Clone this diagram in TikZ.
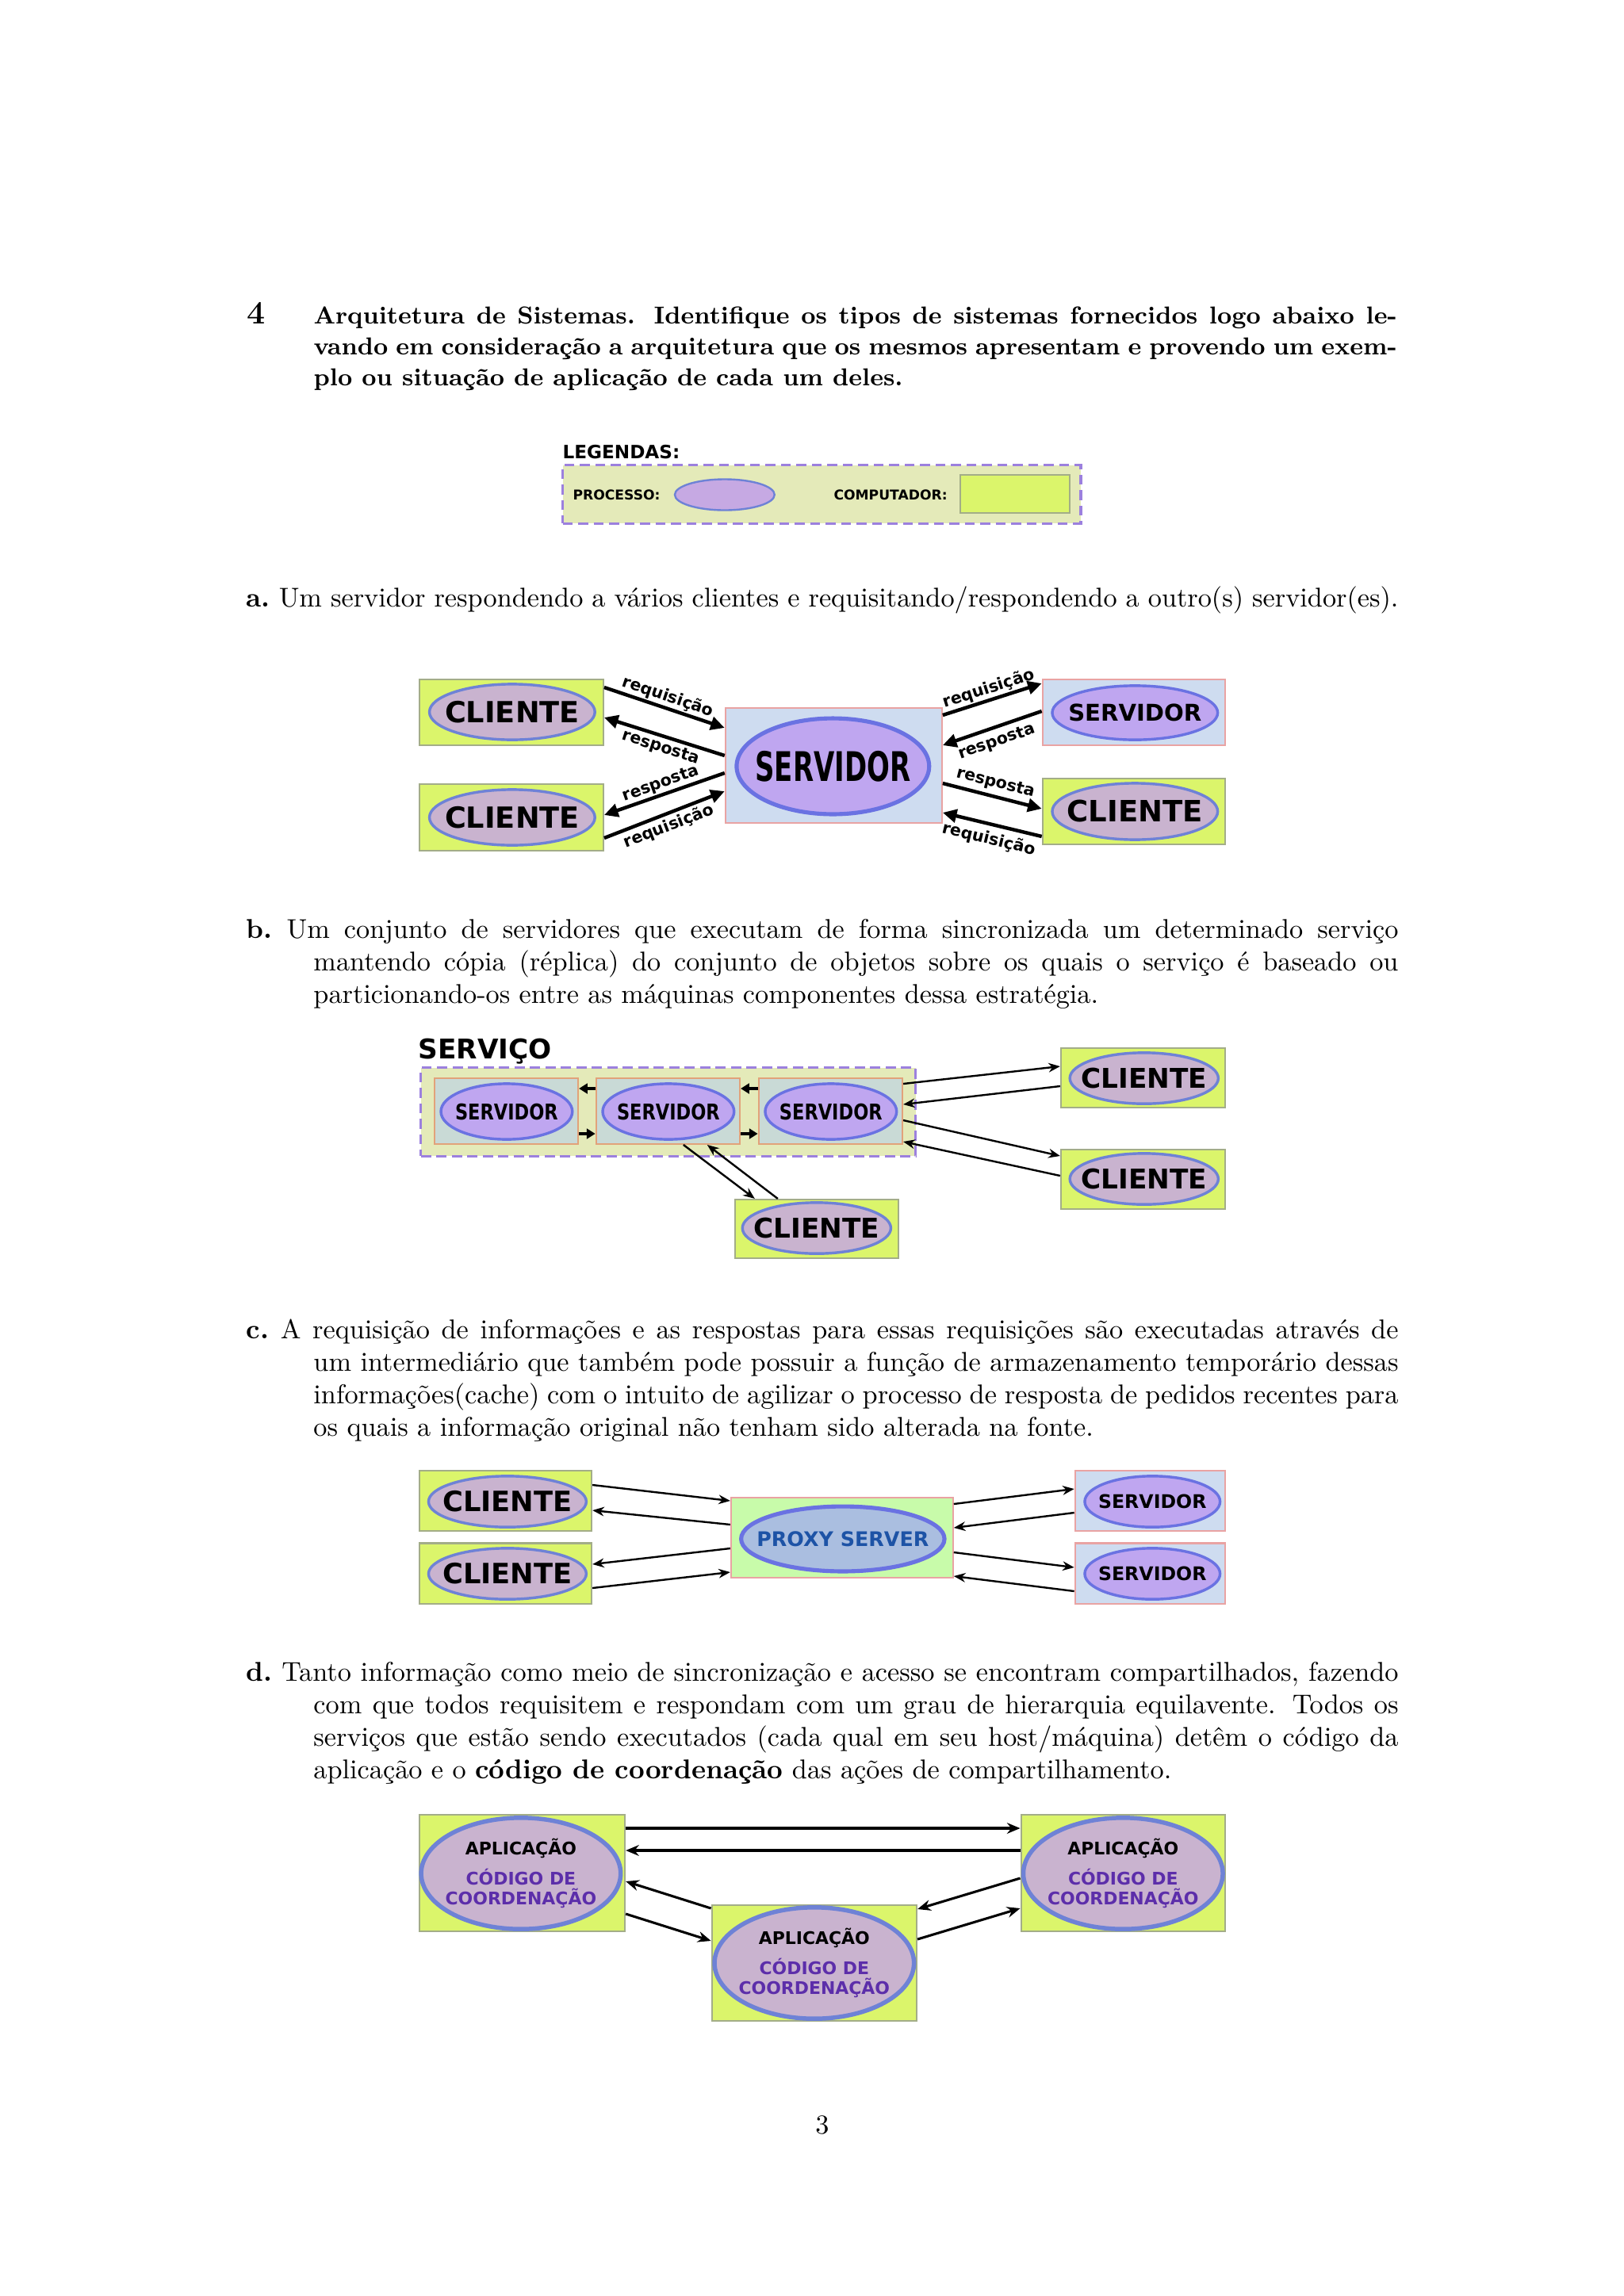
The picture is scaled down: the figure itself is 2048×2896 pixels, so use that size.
\documentclass[tikz,border=0pt]{standalone}
\usepackage{fontspec}
\usepackage{xcolor}
\usepackage{graphicx}
\usepackage{tikz}
\usetikzlibrary{positioning, shapes.geometric, arrows.meta, calc}
\newfontfamily\dejavu{DejaVu Sans}
\definecolor{pcfill}{HTML}{DBF56B}
\definecolor{pcedge}{HTML}{A3AD88}
\definecolor{svfill}{HTML}{CEDCF0}
\definecolor{svedge}{HTML}{E9A3A3}
\definecolor{clproc}{HTML}{C9B3CF}
\definecolor{procedge}{HTML}{6E82D6}
\definecolor{svproc}{HTML}{BFA6F0}
\definecolor{svprocedge}{HTML}{6A72E2}
\definecolor{grpfill}{HTML}{E4EAB9}
\definecolor{grpedge}{HTML}{9C80DE}
\definecolor{repfill}{HTML}{C9DAD6}
\definecolor{repedge}{HTML}{E2A27A}
\definecolor{pxfill}{HTML}{C8FBAA}
\definecolor{pxproc}{HTML}{AABEE0}
\definecolor{pxtext}{HTML}{1D53A6}
\definecolor{codtext}{HTML}{5C2EAA}
\definecolor{legproc}{HTML}{C6A9E3}
\newcommand{\dv}[1]{\dejavu\bfseries\fontsize{#1}{#1}\selectfont}
\newcommand{\etq}[1]{\makebox[0pt]{#1}}
\newcommand{\estreito}[2]{\makebox[0pt]{\scalebox{#1}[1]{#2}}}
\newcommand{\blocoapp}{\makebox[0pt]{\parbox{30mm}{\centering APLICAÇÃO\\[3.7pt]\textcolor{codtext}{CÓDIGO DE}\\\textcolor{codtext}{COORDENAÇÃO}}}}

\begin{document}
\begin{tikzpicture}[
  x=0.10254mm, y=-0.10255mm,
  enun/.style={anchor=base west, inner sep=0pt, align=justify},
  item/.style={enun, text width=149mm},
  pc/.style={rectangle, draw=pcedge, fill=pcfill, line width=0.6pt, inner sep=0pt},
  srv/.style={pc, draw=svedge, fill=svfill},
  rep/.style={pc, draw=repedge, fill=repfill},
  grupo/.style={rectangle, draw=grpedge, fill=grpfill, line width=0.9pt, dash pattern=on 1.3mm off 0.7mm, inner sep=0pt},
  cproc/.style={ellipse, draw=procedge, fill=clproc, line width=1pt, inner sep=0pt},
  sproc/.style={ellipse, draw=svprocedge, fill=svproc, line width=1pt, inner sep=0pt},
  app/.style={cproc, line width=1.6pt, minimum width=25.8mm, minimum height=14.4mm, font=\dejavu\bfseries\fontsize{6.4}{7.3}\selectfont},
  arr/.style={-{Triangle[length=1.8mm, width=1.7mm]}, line width=1.3pt},
  sarr/.style={-{Triangle[length=1.1mm, width=1.3mm]}, line width=1.2pt},
  larr/.style={-{Stealth[length=1.5mm, width=1.2mm]}, line width=0.7pt},
  darr/.style={-{Stealth[length=1.7mm, width=1.4mm]}, line width=0.9pt},
  lbl/.style={font=\dv{6}, sloped, inner sep=0pt}
]
\useasboundingbox (0,0) rectangle (2048,2896);

% enunciado
\node[anchor=base west, inner sep=0pt, font=\large\bfseries] (numero) at (311,408) {4};
\node[enun, text width=140.1mm, font=\fontsize{9}{11.4}\selectfont\bfseries] (enunciado) at (395,408) {Arquitetura de Sistemas.  Identifique os tipos de sistemas fornecidos logo abaixo le-\linebreak vando em consideração a arquitetura que os mesmos apresentam e provendo um exem-\linebreak plo ou situação de aplicação de cada um deles.};

% legenda
\node[anchor=base west, inner sep=0pt, font=\dv{6.75}] (legendas) at (709,578) {LEGENDAS:};
\node[grupo, minimum width=67mm, minimum height=7.5mm] (legbox) at (1036.5,623.5) {};
\node[anchor=west, inner sep=0pt, font=\dv{5}] (legproctxt) at (722,624) {PROCESSO:};
\node[cproc, fill=legproc, line width=0.7pt, minimum width=12.9mm, minimum height=4mm] (legproc) at (914,624) {};
\node[anchor=west, inner sep=0pt, font=\dv{5}] (legpctxt) at (1051,624) {COMPUTADOR:};
\node[pc, minimum width=14.2mm, minimum height=4.9mm] (legpc) at (1280,623) {};

% item a
\node[item] (itema) at (310,765) {\hangindent=8.7mm\hangafter=1 \textbf{a.}\ Um servidor respondendo a vários clientes e requisitando/respondendo a outro(s) servidor(es).\par};

\node[pc, minimum width=23.8mm, minimum height=8.5mm] (cA1box) at (645,898.5) {};
\node[cproc, minimum width=21.4mm, minimum height=7.2mm, font=\dv{10.7}] (cA1) at (646,898) {\etq{CLIENTE}};
\node[pc, minimum width=23.8mm, minimum height=8.6mm] (cA2box) at (645,1031) {};
\node[cproc, minimum width=21.4mm, minimum height=7.2mm, font=\dv{10.7}] (cA2) at (646,1031) {\etq{CLIENTE}};
\node[srv, minimum width=28mm, minimum height=14.9mm] (sAbox) at (1051.5,965.5) {};
\node[sproc, line width=1.5pt, minimum width=24.9mm, minimum height=12.4mm, font=\dv{15}] (sA) at (1050.5,966.5) {\estreito{0.66}{SERVIDOR}};
\node[srv, minimum width=23.6mm, minimum height=8.5mm] (sA2box) at (1430,898.5) {};
\node[sproc, minimum width=21.4mm, minimum height=7mm, font=\dv{8.5}] (sA2) at (1431.5,899) {\etq{SERVIDOR}};
\node[pc, minimum width=23.6mm, minimum height=8.5mm] (cA3box) at (1430,1023.5) {};
\node[cproc, minimum width=21.4mm, minimum height=7.3mm, font=\dv{10.8}] (cA3) at (1431.5,1023.5) {\etq{CLIENTE}};

\draw[arr] ($(cA1box.east)+(0,-31.5)$) -- node[lbl, above=0.5pt] {requisição} ($(sAbox.west)+(0,-47.5)$);
\draw[arr] ($(sAbox.west)+(0,-12.5)$) -- node[lbl, below=1pt] {resposta} ($(cA1box.east)+(0,6.5)$);
\draw[arr] ($(sAbox.west)+(0,9.5)$) -- node[lbl, above=0.5pt] {resposta} ($(cA2box.east)+(0,-3)$);
\draw[arr] ($(cA2box.east)+(0,26)$) -- node[lbl, below=1pt] {requisição} ($(sAbox.west)+(0,32.5)$);
\draw[arr] ($(sAbox.east)+(0,-63.5)$) -- node[lbl, above=0.5pt] {requisição} ($(sA2box.west)+(0,-36.5)$);
\draw[arr] ($(sA2box.west)+(0,-1.5)$) -- node[lbl, below=2pt] {resposta} ($(sAbox.east)+(0,-25.5)$);
\draw[arr] ($(sAbox.east)+(0,22.5)$) -- node[lbl, above=1.5pt] {resposta} ($(cA3box.west)+(0,-3.5)$);
\draw[arr] ($(cA3box.west)+(0,31.5)$) -- node[lbl, below=2pt] {requisição} ($(sAbox.east)+(0,59.5)$);

% item b
\node[item] (itemb) at (310,1183) {\hangindent=8.7mm\hangafter=1 \textbf{b.}\ Um conjunto de servidores que executam de forma sincronizada um determinado serviço\linebreak mantendo cópia (réplica) do conjunto de objetos sobre os quais o serviço é baseado ou\linebreak particionando-os entre as máquinas componentes dessa estratégia.\par};

\node[anchor=base west, inner sep=0pt, font=\dv{10}] (servico) at (527,1335) {SERVIÇO};
\node[grupo, minimum width=64mm, minimum height=11.4mm] (grupoB) at (843,1402.5) {};
\node[rep, minimum width=18.6mm, minimum height=8.5mm] (sB1box) at (638.5,1401.5) {};
\node[sproc, minimum width=17mm, minimum height=7.2mm, font=\dv{8}] (sB1) at (639,1402) {\estreito{0.82}{SERVIDOR}};
\node[rep, minimum width=18.6mm, minimum height=8.5mm] (sB2box) at (842.5,1401.5) {};
\node[sproc, minimum width=17mm, minimum height=7.2mm, font=\dv{8}] (sB2) at (843,1402) {\estreito{0.82}{SERVIDOR}};
\node[rep, minimum width=18.6mm, minimum height=8.5mm] (sB3box) at (1047.5,1401.5) {};
\node[sproc, minimum width=17mm, minimum height=7.2mm, font=\dv{8}] (sB3) at (1048,1402) {\estreito{0.82}{SERVIDOR}};
\node[pc, minimum width=21.2mm, minimum height=7.7mm] (cB1box) at (1441.5,1359.5) {};
\node[cproc, minimum width=19.2mm, minimum height=6.6mm, font=\dv{10}] (cB1) at (1443,1360) {\etq{CLIENTE}};
\node[pc, minimum width=21.2mm, minimum height=7.7mm] (cB2box) at (1441.5,1487.5) {};
\node[cproc, minimum width=19.2mm, minimum height=6.6mm, font=\dv{10}] (cB2) at (1443,1487) {\etq{CLIENTE}};
\node[pc, minimum width=21.1mm, minimum height=7.6mm] (cB3box) at (1030,1550) {};
\node[cproc, minimum width=19.2mm, minimum height=6.6mm, font=\dv{10}] (cB3) at (1030,1549) {\etq{CLIENTE}};

\draw[sarr] ($(sB2box.west)+(0,-28.5)$) -- ($(sB1box.east)+(0,-28.5)$);
\draw[sarr] ($(sB3box.west)+(0,-28.5)$) -- ($(sB2box.east)+(0,-28.5)$);
\draw[sarr] ($(sB1box.east)+(0,28.5)$) -- ($(sB2box.west)+(0,28.5)$);
\draw[sarr] ($(sB2box.east)+(0,28.5)$) -- ($(sB3box.west)+(0,28.5)$);
\draw[larr] ($(sB3box.east)+(0,-34.5)$) -- ($(cB1box.west)+(0,-14.5)$);
\draw[larr] ($(cB1box.west)+(0,10.5)$) -- ($(sB3box.east)+(0,-8.5)$);
\draw[larr] ($(sB3box.east)+(0,11.5)$) -- ($(cB2box.west)+(0,-29.5)$);
\draw[larr] ($(cB2box.west)+(0,-4.5)$) -- ($(sB3box.east)+(0,38.5)$);
\draw[larr] ($(sB2box.south)+(19.5,0)$) -- ($(cB3box.north)+(-78,0)$);
\draw[larr] ($(cB3box.north)+(-49,0)$) -- ($(sB2box.south)+(49.5,0)$);

% item c
\node[item] (itemc) at (310,1688) {\hangindent=8.7mm\hangafter=1 \textbf{c.}\ A requisição de informações e as respostas para essas requisições são executadas através de\linebreak um intermediário que também pode possuir a função de armazenamento temporário dessas\linebreak informações(cache) com o intuito de agilizar o processo de resposta de pedidos recentes para\linebreak os quais a informação original não tenham sido alterada na fonte.\par};

\node[pc, minimum width=22.3mm, minimum height=7.8mm] (cC1box) at (637.5,1893) {};
\node[cproc, minimum width=20.4mm, minimum height=6.6mm, font=\dv{10.3}] (cC1) at (640,1894) {\etq{CLIENTE}};
\node[pc, minimum width=22.3mm, minimum height=7.8mm] (cC2box) at (637.5,1984.5) {};
\node[cproc, minimum width=20.4mm, minimum height=6.6mm, font=\dv{10.3}] (cC2) at (640,1985) {\etq{CLIENTE}};
\node[srv, fill=pxfill, minimum width=28.7mm, minimum height=10.4mm] (pxbox) at (1062,1939.5) {};
\node[sproc, fill=pxproc, line width=1.5pt, minimum width=26.3mm, minimum height=8.4mm, font=\dv{7.4}, text=pxtext] (px) at (1063,1941) {\etq{PROXY SERVER}};
\node[srv, minimum width=19.4mm, minimum height=7.8mm] (sC1box) at (1450.5,1893) {};
\node[sproc, minimum width=17.5mm, minimum height=6.6mm, font=\dv{6.9}] (sC1) at (1453.5,1894) {\etq{SERVIDOR}};
\node[srv, minimum width=19.4mm, minimum height=7.8mm] (sC2box) at (1450.5,1984.5) {};
\node[sproc, minimum width=17.5mm, minimum height=6.6mm, font=\dv{6.9}] (sC2) at (1453.5,1985) {\etq{SERVIDOR}};

\draw[larr] ($(cC1box.east)+(0,-20)$) -- ($(pxbox.west)+(0,-46.5)$);
\draw[larr] ($(pxbox.west)+(0,-16.5)$) -- ($(cC1box.east)+(0,12)$);
\draw[larr] ($(pxbox.west)+(0,13.5)$) -- ($(cC2box.east)+(0,-11.5)$);
\draw[larr] ($(cC2box.east)+(0,18.5)$) -- ($(pxbox.west)+(0,43.5)$);
\draw[larr] ($(pxbox.east)+(0,-42.5)$) -- ($(sC1box.west)+(0,-15)$);
\draw[larr] ($(sC1box.west)+(0,15)$) -- ($(pxbox.east)+(0,-12.5)$);
\draw[larr] ($(pxbox.east)+(0,18.5)$) -- ($(sC2box.west)+(0,-7.5)$);
\draw[larr] ($(sC2box.west)+(0,22.5)$) -- ($(pxbox.east)+(0,48.5)$);

% item d
\node[item] (itemd) at (310,2120) {\hangindent=8.7mm\hangafter=1 \textbf{d.}\ Tanto informação como meio de sincronização e acesso se encontram compartilhados, fazendo\linebreak com que todos requisitem e respondam com um grau de hierarquia equilavente.  Todos os\linebreak serviços que estão sendo executados (cada qual em seu host/máquina) detêm o código da\linebreak aplicação e o \textbf{código de coordenação} das ações de compartilhamento.\par};

\node[pc, minimum width=26.6mm, minimum height=15.1mm] (aLbox) at (658.5,2362.5) {};
\node[app] (aL) at (657,2363) {\blocoapp};
\node[pc, minimum width=26.4mm, minimum height=15.1mm] (aRbox) at (1416.5,2362.5) {};
\node[app] (aR) at (1416.5,2363) {\blocoapp};
\node[pc, minimum width=26.5mm, minimum height=15mm] (aMbox) at (1027,2476) {};
\node[app] (aM) at (1027,2476) {\blocoapp};

\draw[darr] ($(aLbox.east)+(0,-56.5)$) -- ($(aRbox.west)+(0,-56.5)$);
\draw[darr] ($(aRbox.west)+(0,-28.5)$) -- ($(aLbox.east)+(0,-28.5)$);
\draw[darr] ($(aMbox.west)+(0,-69)$) -- ($(aLbox.east)+(0,10.5)$);
\draw[darr] ($(aLbox.east)+(0,51.5)$) -- ($(aMbox.west)+(0,-28)$);
\draw[darr] ($(aRbox.west)+(0,6.5)$) -- ($(aMbox.east)+(0,-68)$);
\draw[darr] ($(aMbox.east)+(0,-30)$) -- ($(aRbox.west)+(0,44.5)$);

\node[anchor=base, inner sep=0pt] (pagina) at (1037,2691) {3};
\end{tikzpicture}
\end{document}
